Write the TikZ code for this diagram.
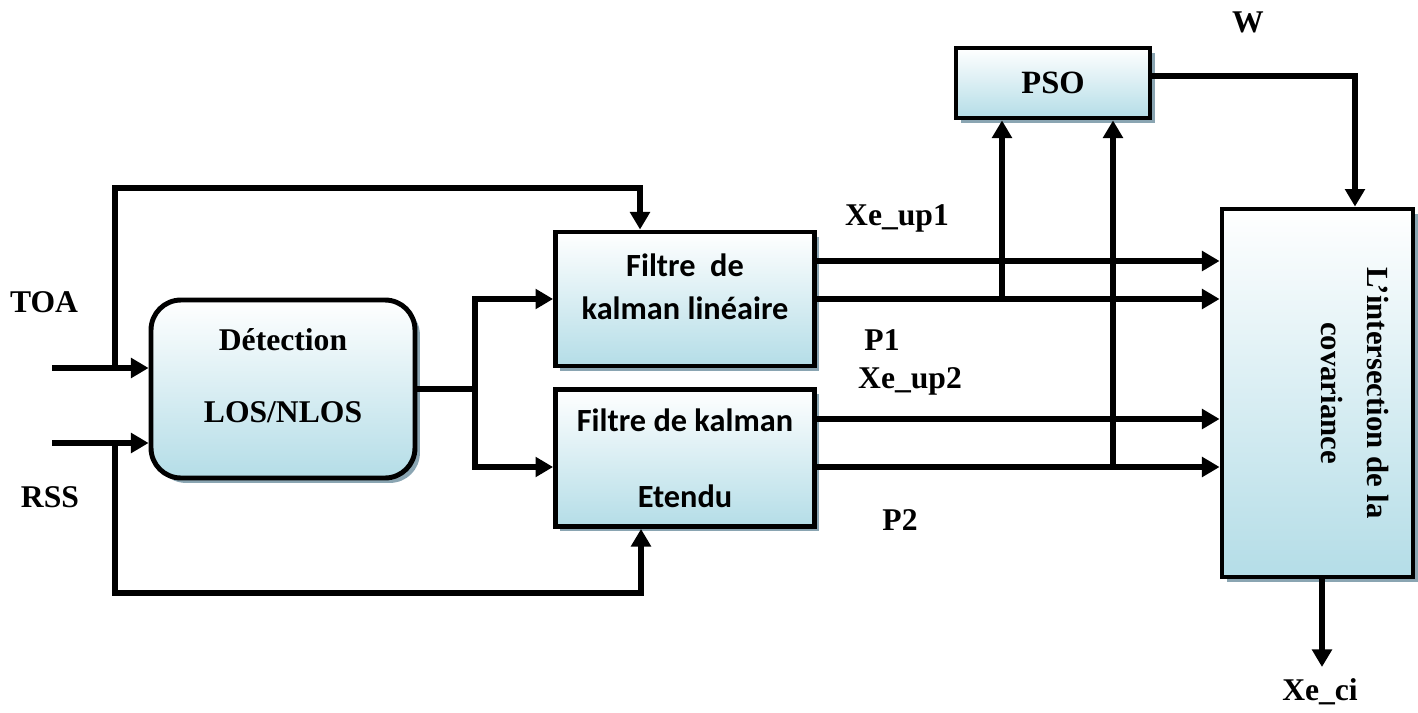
\documentclass[tikz,border=0pt]{standalone}
\usepackage{fontspec}
\setmainfont{Liberation Serif}
\newfontfamily\calib{Carlito}
\usetikzlibrary{arrows.meta}
\usetikzlibrary{shadows}
\definecolor{boxbot}{RGB}{180,221,231}
\definecolor{shadecol}{RGB}{125,155,170}

\begin{document}
\begin{tikzpicture}[x=0.02cm,y=-0.02cm,line width=3.1pt,
		>={Triangle[length=10pt,width=11pt]},
		block/.style={draw,line width=2.8pt,top color=white,bottom color=boxbot,
			drop shadow={shadow xshift=2.8pt,shadow yshift=-2.8pt,fill=shadecol,opacity=0.9},
			align=center,inner sep=0pt},
		lab/.style={font=\fontsize{18}{22}\selectfont\bfseries}]
		\useasboundingbox (0,0) rectangle (1418,713);
		
		% blocks
		\node[block,rounded corners=17pt,minimum width=5.28cm,minimum height=3.56cm,
		font=\fontsize{18}{22}\selectfont\bfseries] (D) at (283,389) {Détection\\[19pt]LOS/NLOS\\[-7pt]\mbox{}};
		\node[block,minimum width=5.18cm,minimum height=2.68cm,
		font=\calib\fontsize{18.4}{22}\selectfont\bfseries] (F1) at (685,299) {Filtre~~de\\[2.4pt]kalman linéaire\\[-8pt]\mbox{}};
		\node[block,minimum width=5.18cm,minimum height=2.74cm,
		font=\calib\fontsize{18.4}{22}\selectfont\bfseries] (F2) at (685,458) {Filtre de kalman\\[21.5pt]Etendu};
		\node[block,minimum width=3.88cm,minimum height=1.4cm,
		font=\fontsize{18.5}{22}\selectfont\bfseries] (PSO) at (1053,83) {PSO};
		\node[block,minimum width=3.82cm,minimum height=7.36cm] (CI) at (1317.5,393) {};
		\node[rotate=-90,align=center,font=\fontsize{17.5}{22}\selectfont\bfseries]
		(CItxt) at (1355,393) {L’intersection de la\\[4.5pt]covariance};
		
		% points
		\coordinate (toa) at (52,368);
		\coordinate (rss) at (52,443);
		\coordinate (up) at (115,188);
		\coordinate (dn) at (115,593);
		\coordinate (sp) at (475,389);
		\coordinate (j1) at (1002,300);
		\coordinate (j2) at (1113,467);
		\coordinate (out) at (1322,667);
		
		% connectors
		\draw[->] (toa) -- (toa -| D.west);
		\draw[->] (rss) -- (rss -| D.west);
		\draw[->] (toa -| up) -- (up) -| ([xshift=-0.9cm]F1.north);
		\draw[->] (rss -| dn) -- (dn) -| ([xshift=-0.88cm]F2.south);
		\draw (D.east) -- (sp);
		\draw[->] (sp) |- (F1.west);
		\draw[->] (sp) |- ([yshift=-0.18cm]F2.west);
		\draw[->] ([yshift=0.76cm]F1.east) -- ([yshift=0.76cm]F1.east -| CI.west);
		\draw[->] (F1.east) -- (F1.east -| CI.west);
		\draw[->] ([yshift=0.78cm]F2.east) -- ([yshift=0.78cm]F2.east -| CI.west);
		\draw[->] ([yshift=-0.18cm]F2.east) -- ([yshift=-0.18cm]F2.east -| CI.west);
		\draw[->] (j1) -- (j1 |- PSO.south);
		\draw[->] (j2) -- (j2 |- PSO.south);
		\draw[->] ([yshift=0.14cm]PSO.east) -| ([xshift=0.75cm]CI.north);
		\draw[->] (CI.south -| out) -- (out);
		
		% labels
		\node[lab] (TOA) at (44,302) {TOA};
		\node[lab] (RSS) at (50,497) {RSS};
		\node[lab] (W) at (1248,22) {W};
		\node[lab] (Xup1) at (897,218) {Xe\_up1};
		\node[lab] (P1) at (882,340) {P1};
		\node[lab] (Xup2) at (910,381) {Xe\_up2};
		\node[lab] (P2) at (900,520) {P2};
		\node[lab] (Xci) at (1320,692) {Xe\_ci};
	\end{tikzpicture}
\end{document}
